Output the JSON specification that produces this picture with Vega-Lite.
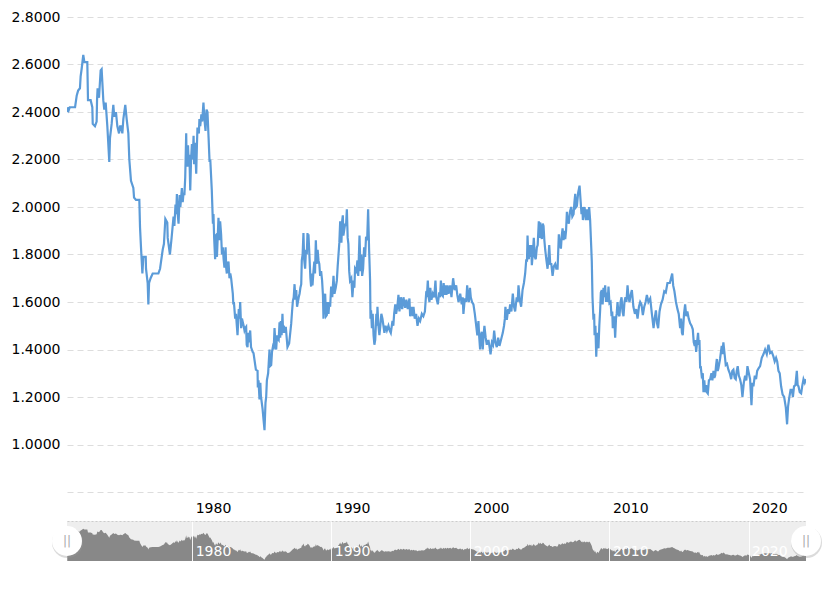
{
  "$schema": "https://vega.github.io/schema/vega-lite/v6.json",
  "padding": {"left": 11, "top": 10, "right": 15, "bottom": 32},
  "background": "#ffffff",
  "config": {"view": {"stroke": null}, "font": "DejaVu Sans"},
  "datasets": {
    "rates": [
      {"year":1971.02,"rate":2.40},{"year":1971.1,"rate":2.42},{"year":1971.14,"rate":2.41},{"year":1971.2,"rate":2.42},{"year":1971.58,"rate":2.42},{"year":1971.7,"rate":2.47},{"year":1971.8,"rate":2.49},{"year":1971.93,"rate":2.50},{"year":1971.98,"rate":2.55},{"year":1972.05,"rate":2.58},{"year":1972.17,"rate":2.64},{"year":1972.25,"rate":2.61},{"year":1972.46,"rate":2.61},{"year":1972.51,"rate":2.45},{"year":1972.7,"rate":2.45},{"year":1972.82,"rate":2.42},{"year":1972.85,"rate":2.35},{"year":1973.01,"rate":2.34},{"year":1973.13,"rate":2.36},{"year":1973.16,"rate":2.45},{"year":1973.2,"rate":2.50},{"year":1973.3,"rate":2.46},{"year":1973.42,"rate":2.575},{"year":1973.49,"rate":2.58},{"year":1973.61,"rate":2.45},{"year":1973.68,"rate":2.41},{"year":1973.78,"rate":2.44},{"year":1973.9,"rate":2.34},{"year":1974.04,"rate":2.19},{"year":1974.09,"rate":2.29},{"year":1974.21,"rate":2.35},{"year":1974.33,"rate":2.43},{"year":1974.4,"rate":2.38},{"year":1974.52,"rate":2.40},{"year":1974.62,"rate":2.34},{"year":1974.74,"rate":2.31},{"year":1974.82,"rate":2.34},{"year":1974.88,"rate":2.34},{"year":1974.98,"rate":2.31},{"year":1975.05,"rate":2.37},{"year":1975.19,"rate":2.43},{"year":1975.29,"rate":2.37},{"year":1975.41,"rate":2.31},{"year":1975.48,"rate":2.20},{"year":1975.6,"rate":2.11},{"year":1975.77,"rate":2.08},{"year":1975.82,"rate":2.04},{"year":1975.96,"rate":2.03},{"year":1976.2,"rate":2.03},{"year":1976.25,"rate":1.915},{"year":1976.32,"rate":1.83},{"year":1976.42,"rate":1.72},{"year":1976.49,"rate":1.79},{"year":1976.66,"rate":1.79},{"year":1976.68,"rate":1.74},{"year":1976.8,"rate":1.68},{"year":1976.85,"rate":1.59},{"year":1976.9,"rate":1.68},{"year":1977.01,"rate":1.70},{"year":1977.16,"rate":1.72},{"year":1977.57,"rate":1.72},{"year":1977.69,"rate":1.74},{"year":1977.88,"rate":1.82},{"year":1977.97,"rate":1.845},{"year":1978.07,"rate":1.95},{"year":1978.21,"rate":1.935},{"year":1978.24,"rate":1.87},{"year":1978.4,"rate":1.80},{"year":1978.52,"rate":1.87},{"year":1978.66,"rate":1.96},
      {"year":1978.72,"rate":1.92},{"year":1978.8,"rate":2.01},{"year":1978.85,"rate":1.97},{"year":1978.9,"rate":2.055},{"year":1978.96,"rate":1.97},{"year":1979.02,"rate":1.93},{"year":1979.1,"rate":2.05},{"year":1979.15,"rate":2.0},{"year":1979.26,"rate":2.08},{"year":1979.32,"rate":2.02},{"year":1979.38,"rate":2.06},{"year":1979.44,"rate":2.05},{"year":1979.5,"rate":2.125},{"year":1979.57,"rate":2.31},{"year":1979.6,"rate":2.19},{"year":1979.66,"rate":2.17},{"year":1979.7,"rate":2.26},{"year":1979.74,"rate":2.2},{"year":1979.8,"rate":2.22},{"year":1979.86,"rate":2.07},{"year":1979.92,"rate":2.2},{"year":1979.98,"rate":2.265},{"year":1980.04,"rate":2.2},{"year":1980.1,"rate":2.30},{"year":1980.14,"rate":2.18},{"year":1980.2,"rate":2.27},{"year":1980.29,"rate":2.14},{"year":1980.34,"rate":2.26},{"year":1980.38,"rate":2.335},{"year":1980.48,"rate":2.31},{"year":1980.52,"rate":2.37},{"year":1980.58,"rate":2.34},{"year":1980.66,"rate":2.39},{"year":1980.72,"rate":2.36},{"year":1980.81,"rate":2.44},{"year":1980.88,"rate":2.37},{"year":1980.96,"rate":2.32},{"year":1981.03,"rate":2.41},{"year":1981.1,"rate":2.40},{"year":1981.18,"rate":2.29},{"year":1981.25,"rate":2.19},{"year":1981.3,"rate":2.2},{"year":1981.41,"rate":2.07},
      {"year":1981.49,"rate":1.93},{"year":1981.53,"rate":1.97},{"year":1981.58,"rate":1.87},{"year":1981.65,"rate":1.78},{"year":1981.7,"rate":1.88},{"year":1981.77,"rate":1.885},{"year":1981.78,"rate":1.79},{"year":1981.89,"rate":1.955},{"year":1981.97,"rate":1.86},{"year":1982.01,"rate":1.94},{"year":1982.08,"rate":1.885},{"year":1982.14,"rate":1.80},{"year":1982.2,"rate":1.83},{"year":1982.26,"rate":1.78},{"year":1982.32,"rate":1.745},{"year":1982.4,"rate":1.83},{"year":1982.45,"rate":1.74},{"year":1982.49,"rate":1.72},{"year":1982.55,"rate":1.76},{"year":1982.61,"rate":1.77},{"year":1982.68,"rate":1.70},{"year":1982.74,"rate":1.72},{"year":1982.8,"rate":1.70},{"year":1982.92,"rate":1.635},{"year":1982.96,"rate":1.59},{"year":1983,"rate":1.6},{"year":1983.09,"rate":1.53},{"year":1983.15,"rate":1.55},{"year":1983.21,"rate":1.50},{"year":1983.26,"rate":1.46},{"year":1983.31,"rate":1.52},{"year":1983.35,"rate":1.57},{"year":1983.4,"rate":1.53},{"year":1983.45,"rate":1.60},{"year":1983.52,"rate":1.49},{"year":1983.58,"rate":1.53},{"year":1983.64,"rate":1.515},{"year":1983.7,"rate":1.50},{"year":1983.76,"rate":1.48},{"year":1983.82,"rate":1.49},{"year":1983.88,"rate":1.495},{"year":1983.92,"rate":1.42},{"year":1983.98,"rate":1.41},{"year":1984.03,"rate":1.47},{"year":1984.07,"rate":1.43},{"year":1984.17,"rate":1.48},{"year":1984.23,"rate":1.41},{"year":1984.29,"rate":1.40},{"year":1984.35,"rate":1.39},{"year":1984.41,"rate":1.385},{"year":1984.58,"rate":1.315},{"year":1984.7,"rate":1.31},{"year":1984.72,"rate":1.24},{"year":1984.77,"rate":1.27},{"year":1984.84,"rate":1.19},{"year":1984.9,"rate":1.26},{"year":1984.94,"rate":1.205},{"year":1985.06,"rate":1.15},{"year":1985.13,"rate":1.105},{"year":1985.2,"rate":1.06},{"year":1985.27,"rate":1.175},{"year":1985.32,"rate":1.20},{"year":1985.37,"rate":1.27},{"year":1985.46,"rate":1.30},{"year":1985.5,"rate":1.34},{"year":1985.56,"rate":1.40},{"year":1985.6,"rate":1.33},{"year":1985.68,"rate":1.335},{"year":1985.74,"rate":1.39},{"year":1985.8,"rate":1.41},{"year":1985.86,"rate":1.40},{"year":1985.92,"rate":1.49},{"year":1985.98,"rate":1.43},{"year":1986.04,"rate":1.40},{"year":1986.1,"rate":1.46},{"year":1986.16,"rate":1.445},{"year":1986.22,"rate":1.44},{"year":1986.28,"rate":1.515},{"year":1986.33,"rate":1.45},{"year":1986.37,"rate":1.52},{"year":1986.43,"rate":1.46},{"year":1986.49,"rate":1.55},{"year":1986.54,"rate":1.47},{"year":1986.59,"rate":1.50},{"year":1986.66,"rate":1.47},{"year":1986.73,"rate":1.495},{"year":1986.85,"rate":1.41},{"year":1986.97,"rate":1.425},{"year":1987.12,"rate":1.51},{"year":1987.18,"rate":1.56},{"year":1987.24,"rate":1.605},{"year":1987.3,"rate":1.62},{"year":1987.36,"rate":1.675},{"year":1987.42,"rate":1.61},{"year":1987.48,"rate":1.65},{"year":1987.54,"rate":1.58},{"year":1987.6,"rate":1.60},{"year":1987.66,"rate":1.62},{"year":1987.72,"rate":1.635},{"year":1987.78,"rate":1.66},{"year":1987.84,"rate":1.675},{"year":1987.88,"rate":1.775},
      {"year":1987.94,"rate":1.80},{"year":1988.0,"rate":1.89},{"year":1988.05,"rate":1.78},{"year":1988.12,"rate":1.74},{"year":1988.18,"rate":1.82},{"year":1988.24,"rate":1.80},{"year":1988.29,"rate":1.89},{"year":1988.33,"rate":1.82},{"year":1988.36,"rate":1.885},{"year":1988.44,"rate":1.78},{"year":1988.5,"rate":1.70},{"year":1988.55,"rate":1.665},{"year":1988.6,"rate":1.72},{"year":1988.65,"rate":1.67},{"year":1988.72,"rate":1.73},{"year":1988.78,"rate":1.77},{"year":1988.83,"rate":1.72},{"year":1988.89,"rate":1.86},{"year":1988.95,"rate":1.76},{"year":1989.02,"rate":1.82},{"year":1989.08,"rate":1.775},{"year":1989.14,"rate":1.76},{"year":1989.2,"rate":1.71},{"year":1989.27,"rate":1.73},{"year":1989.34,"rate":1.69},{"year":1989.4,"rate":1.63},{"year":1989.44,"rate":1.53},{"year":1989.5,"rate":1.62},{"year":1989.56,"rate":1.635},{"year":1989.62,"rate":1.54},{"year":1989.68,"rate":1.545},{"year":1989.74,"rate":1.60},{"year":1989.8,"rate":1.55},{"year":1989.86,"rate":1.60},{"year":1989.92,"rate":1.58},{"year":1989.99,"rate":1.665},{"year":1990.07,"rate":1.62},{"year":1990.16,"rate":1.71},{"year":1990.23,"rate":1.635},{"year":1990.32,"rate":1.66},{"year":1990.4,"rate":1.69},{"year":1990.46,"rate":1.75},{"year":1990.52,"rate":1.80},{"year":1990.58,"rate":1.85},{"year":1990.64,"rate":1.94},{"year":1990.68,"rate":1.87},{"year":1990.73,"rate":1.85},{"year":1990.78,"rate":1.94},{"year":1990.83,"rate":1.965},{"year":1990.87,"rate":1.88},{"year":1990.92,"rate":1.90},{"year":1991,"rate":1.93},{"year":1991.06,"rate":1.92},{"year":1991.12,"rate":1.99},{"year":1991.18,"rate":1.87},{"year":1991.23,"rate":1.845},{"year":1991.29,"rate":1.73},{"year":1991.35,"rate":1.69},{"year":1991.44,"rate":1.70},{"year":1991.52,"rate":1.62},{"year":1991.6,"rate":1.69},{"year":1991.66,"rate":1.66},{"year":1991.71,"rate":1.74},{"year":1991.8,"rate":1.73},{"year":1991.88,"rate":1.775},{"year":1991.94,"rate":1.71},{"year":1992.03,"rate":1.88},{"year":1992.1,"rate":1.73},{"year":1992.16,"rate":1.80},{"year":1992.22,"rate":1.71},{"year":1992.29,"rate":1.74},{"year":1992.36,"rate":1.83},{"year":1992.43,"rate":1.79},{"year":1992.5,"rate":1.875},{"year":1992.58,"rate":1.86},{"year":1992.65,"rate":1.99},{"year":1992.72,"rate":1.82},{"year":1992.79,"rate":1.69},{"year":1992.82,"rate":1.53},{"year":1992.86,"rate":1.565},{"year":1992.92,"rate":1.49},{"year":1992.98,"rate":1.55},{"year":1993.04,"rate":1.46},{"year":1993.1,"rate":1.42},{"year":1993.16,"rate":1.44},{"year":1993.24,"rate":1.55},{"year":1993.28,"rate":1.50},{"year":1993.32,"rate":1.58},{"year":1993.39,"rate":1.50},{"year":1993.46,"rate":1.46},{"year":1993.53,"rate":1.50},{"year":1993.6,"rate":1.55},{"year":1993.68,"rate":1.53},{"year":1993.75,"rate":1.50},{"year":1993.82,"rate":1.47},{"year":1993.9,"rate":1.50},{"year":1994,"rate":1.48},{"year":1994.11,"rate":1.50},{"year":1994.2,"rate":1.48},{"year":1994.28,"rate":1.47},{"year":1994.4,"rate":1.52},{"year":1994.46,"rate":1.50},{"year":1994.52,"rate":1.55},{"year":1994.6,"rate":1.59},{"year":1994.66,"rate":1.55},{"year":1994.75,"rate":1.58},{"year":1994.83,"rate":1.63},{"year":1994.9,"rate":1.56},{"year":1995,"rate":1.62},{"year":1995.1,"rate":1.57},{"year":1995.19,"rate":1.62},{"year":1995.31,"rate":1.575},{"year":1995.4,"rate":1.61},{"year":1995.5,"rate":1.57},{"year":1995.62,"rate":1.615},{"year":1995.67,"rate":1.54},{"year":1995.78,"rate":1.58},{"year":1995.85,"rate":1.54},{"year":1995.91,"rate":1.58},{"year":1996,"rate":1.53},{"year":1996.1,"rate":1.55},{"year":1996.2,"rate":1.50},{"year":1996.3,"rate":1.53},{"year":1996.39,"rate":1.52},
      {"year":1996.51,"rate":1.55},{"year":1996.62,"rate":1.54},{"year":1996.73,"rate":1.56},{"year":1996.82,"rate":1.635},{"year":1996.88,"rate":1.63},{"year":1996.94,"rate":1.69},{"year":1997,"rate":1.62},{"year":1997.06,"rate":1.60},{"year":1997.12,"rate":1.66},{"year":1997.2,"rate":1.61},{"year":1997.3,"rate":1.635},{"year":1997.4,"rate":1.62},{"year":1997.49,"rate":1.69},{"year":1997.55,"rate":1.62},{"year":1997.66,"rate":1.59},{"year":1997.76,"rate":1.64},{"year":1997.82,"rate":1.62},{"year":1997.88,"rate":1.69},{"year":1997.95,"rate":1.63},{"year":1998.02,"rate":1.625},{"year":1998.08,"rate":1.68},{"year":1998.14,"rate":1.63},{"year":1998.21,"rate":1.67},{"year":1998.28,"rate":1.63},{"year":1998.36,"rate":1.67},{"year":1998.43,"rate":1.635},{"year":1998.55,"rate":1.67},{"year":1998.64,"rate":1.62},{"year":1998.76,"rate":1.70},{"year":1998.87,"rate":1.65},{"year":1998.98,"rate":1.67},{"year":1999.06,"rate":1.63},{"year":1999.15,"rate":1.60},{"year":1999.27,"rate":1.635},{"year":1999.38,"rate":1.59},{"year":1999.45,"rate":1.62},{"year":1999.5,"rate":1.55},{"year":1999.6,"rate":1.615},{"year":1999.7,"rate":1.60},{"year":1999.77,"rate":1.67},{"year":1999.83,"rate":1.62},{"year":1999.89,"rate":1.60},{"year":1999.97,"rate":1.66},{"year":2000.03,"rate":1.62},{"year":2000.12,"rate":1.60},{"year":2000.22,"rate":1.59},{"year":2000.32,"rate":1.55},{"year":2000.42,"rate":1.50},{"year":2000.5,"rate":1.46},{"year":2000.58,"rate":1.52},{"year":2000.64,"rate":1.45},{"year":2000.7,"rate":1.40},{"year":2000.76,"rate":1.46},{"year":2000.82,"rate":1.475},{"year":2000.89,"rate":1.40},{"year":2000.95,"rate":1.46},{"year":2001.01,"rate":1.50},{"year":2001.1,"rate":1.45},{"year":2001.18,"rate":1.42},{"year":2001.3,"rate":1.44},{"year":2001.38,"rate":1.41},{"year":2001.45,"rate":1.38},{"year":2001.55,"rate":1.43},{"year":2001.63,"rate":1.42},{"year":2001.71,"rate":1.48},{"year":2001.8,"rate":1.43},{"year":2001.9,"rate":1.41},{"year":2002,"rate":1.45},{"year":2002.09,"rate":1.415},{"year":2002.2,"rate":1.44},{"year":2002.33,"rate":1.47},{"year":2002.42,"rate":1.50},{"year":2002.48,"rate":1.53},{"year":2002.52,"rate":1.58},{"year":2002.62,"rate":1.525},{"year":2002.72,"rate":1.57},{"year":2002.78,"rate":1.55},{"year":2002.86,"rate":1.59},{"year":2002.95,"rate":1.56},{"year":2003.05,"rate":1.635},{"year":2003.14,"rate":1.58},{"year":2003.22,"rate":1.56},{"year":2003.33,"rate":1.62},{"year":2003.4,"rate":1.60},{"year":2003.46,"rate":1.67},{"year":2003.55,"rate":1.61},{"year":2003.65,"rate":1.58},{"year":2003.75,"rate":1.65},{"year":2003.85,"rate":1.68},{"year":2003.94,"rate":1.72},{"year":2004.02,"rate":1.78},{"year":2004.07,"rate":1.77},{"year":2004.11,"rate":1.88},{"year":2004.16,"rate":1.80},{"year":2004.2,"rate":1.78},{"year":2004.28,"rate":1.84},{"year":2004.33,"rate":1.79},{"year":2004.37,"rate":1.84},{"year":2004.42,"rate":1.755},{"year":2004.5,"rate":1.81},{"year":2004.56,"rate":1.87},{"year":2004.63,"rate":1.79},{"year":2004.7,"rate":1.78},{"year":2004.78,"rate":1.83},{"year":2004.84,"rate":1.84},{"year":2004.92,"rate":1.94},{"year":2004.97,"rate":1.87},
      {"year":2005.02,"rate":1.935},{"year":2005.08,"rate":1.88},{"year":2005.14,"rate":1.865},{"year":2005.2,"rate":1.93},{"year":2005.26,"rate":1.92},{"year":2005.32,"rate":1.86},{"year":2005.38,"rate":1.82},{"year":2005.46,"rate":1.78},{"year":2005.55,"rate":1.74},{"year":2005.62,"rate":1.79},{"year":2005.67,"rate":1.84},{"year":2005.74,"rate":1.76},{"year":2005.82,"rate":1.76},{"year":2005.91,"rate":1.71},{"year":2006,"rate":1.75},{"year":2006.1,"rate":1.76},{"year":2006.18,"rate":1.74},{"year":2006.27,"rate":1.74},{"year":2006.32,"rate":1.82},{"year":2006.36,"rate":1.885},{"year":2006.44,"rate":1.84},{"year":2006.51,"rate":1.825},{"year":2006.57,"rate":1.88},{"year":2006.63,"rate":1.91},{"year":2006.7,"rate":1.86},{"year":2006.76,"rate":1.90},{"year":2006.82,"rate":1.865},{"year":2006.88,"rate":1.90},{"year":2006.94,"rate":1.98},{"year":2007.01,"rate":1.94},{"year":2007.08,"rate":1.93},{"year":2007.16,"rate":1.98},{"year":2007.25,"rate":2.00},{"year":2007.33,"rate":1.96},{"year":2007.42,"rate":1.97},{"year":2007.48,"rate":2.02},{"year":2007.54,"rate":2.055},{"year":2007.6,"rate":2.0},{"year":2007.66,"rate":2.005},{"year":2007.75,"rate":2.06},{"year":2007.85,"rate":2.09},{"year":2007.92,"rate":2.03},{"year":2007.99,"rate":1.97},{"year":2008.05,"rate":2.0},{"year":2008.09,"rate":1.945},{"year":2008.15,"rate":1.98},{"year":2008.21,"rate":2.0},{"year":2008.3,"rate":1.945},{"year":2008.38,"rate":1.99},{"year":2008.47,"rate":1.945},{"year":2008.54,"rate":2.0},{"year":2008.61,"rate":1.945},{"year":2008.69,"rate":1.83},{"year":2008.73,"rate":1.77},{"year":2008.78,"rate":1.62},{"year":2008.85,"rate":1.525},{"year":2008.9,"rate":1.55},{"year":2008.93,"rate":1.46},{"year":2008.99,"rate":1.50},{"year":2009.05,"rate":1.37},{"year":2009.1,"rate":1.45},{"year":2009.14,"rate":1.47},{"year":2009.21,"rate":1.405},{"year":2009.27,"rate":1.50},{"year":2009.33,"rate":1.565},{"year":2009.38,"rate":1.64},{"year":2009.45,"rate":1.65},{"year":2009.51,"rate":1.59},{"year":2009.57,"rate":1.66},{"year":2009.63,"rate":1.62},{"year":2009.69,"rate":1.67},{"year":2009.75,"rate":1.60},{"year":2009.81,"rate":1.64},{"year":2009.87,"rate":1.60},{"year":2009.93,"rate":1.665},{"year":2010,"rate":1.595},{"year":2010.08,"rate":1.60},{"year":2010.15,"rate":1.54},{"year":2010.2,"rate":1.56},{"year":2010.24,"rate":1.49},{"year":2010.3,"rate":1.52},{"year":2010.34,"rate":1.54},{"year":2010.41,"rate":1.45},{"year":2010.47,"rate":1.53},{"year":2010.52,"rate":1.55},{"year":2010.58,"rate":1.60},{"year":2010.65,"rate":1.55},{"year":2010.72,"rate":1.54},{"year":2010.8,"rate":1.60},{"year":2010.87,"rate":1.62},{"year":2010.94,"rate":1.56},{"year":2011.01,"rate":1.54},{"year":2011.08,"rate":1.60},{"year":2011.15,"rate":1.62},{"year":2011.22,"rate":1.60},{"year":2011.3,"rate":1.67},{"year":2011.37,"rate":1.62},{"year":2011.44,"rate":1.60},{"year":2011.52,"rate":1.63},{"year":2011.61,"rate":1.65},{"year":2011.72,"rate":1.58},{"year":2011.83,"rate":1.55},{"year":2011.92,"rate":1.57},{"year":2012.02,"rate":1.53},{"year":2012.12,"rate":1.58},{"year":2012.21,"rate":1.60},{"year":2012.3,"rate":1.59},{"year":2012.4,"rate":1.545},{"year":2012.5,"rate":1.58},{"year":2012.6,"rate":1.60},{"year":2012.69,"rate":1.63},{"year":2012.8,"rate":1.60},{"year":2012.93,"rate":1.615},{"year":2013.05,"rate":1.55},{"year":2013.17,"rate":1.49},{"year":2013.25,"rate":1.53},{"year":2013.34,"rate":1.565},{"year":2013.42,"rate":1.51},{"year":2013.5,"rate":1.49},{"year":2013.6,"rate":1.56},{"year":2013.7,"rate":1.59},{"year":2013.82,"rate":1.61},{"year":2013.94,"rate":1.645},{"year":2014.05,"rate":1.64},{"year":2014.17,"rate":1.68},{"year":2014.34,"rate":1.68},{"year":2014.51,"rate":1.72},
      {"year":2014.58,"rate":1.67},{"year":2014.67,"rate":1.645},{"year":2014.78,"rate":1.60},{"year":2014.89,"rate":1.57},{"year":2014.98,"rate":1.55},{"year":2015.08,"rate":1.49},{"year":2015.15,"rate":1.53},{"year":2015.21,"rate":1.47},{"year":2015.27,"rate":1.46},{"year":2015.36,"rate":1.55},{"year":2015.44,"rate":1.59},{"year":2015.52,"rate":1.54},{"year":2015.6,"rate":1.56},{"year":2015.7,"rate":1.53},{"year":2015.8,"rate":1.51},{"year":2015.9,"rate":1.50},{"year":2015.99,"rate":1.485},{"year":2016.06,"rate":1.43},{"year":2016.13,"rate":1.415},{"year":2016.18,"rate":1.44},{"year":2016.23,"rate":1.39},{"year":2016.3,"rate":1.43},{"year":2016.37,"rate":1.47},{"year":2016.42,"rate":1.42},{"year":2016.47,"rate":1.44},{"year":2016.52,"rate":1.32},{"year":2016.56,"rate":1.33},{"year":2016.63,"rate":1.29},{"year":2016.71,"rate":1.30},{"year":2016.76,"rate":1.22},{"year":2016.82,"rate":1.27},{"year":2016.88,"rate":1.22},{"year":2016.95,"rate":1.25},{"year":2017.01,"rate":1.22},{"year":2017.07,"rate":1.215},{"year":2017.15,"rate":1.27},{"year":2017.24,"rate":1.275},{"year":2017.33,"rate":1.30},{"year":2017.4,"rate":1.27},{"year":2017.48,"rate":1.31},{"year":2017.54,"rate":1.28},{"year":2017.6,"rate":1.29},{"year":2017.66,"rate":1.33},{"year":2017.72,"rate":1.36},{"year":2017.78,"rate":1.31},{"year":2017.83,"rate":1.32},{"year":2017.95,"rate":1.36},{"year":2018.07,"rate":1.415},{"year":2018.12,"rate":1.38},{"year":2018.19,"rate":1.43},{"year":2018.28,"rate":1.38},{"year":2018.36,"rate":1.335},{"year":2018.45,"rate":1.34},{"year":2018.55,"rate":1.315},{"year":2018.65,"rate":1.30},{"year":2018.75,"rate":1.275},{"year":2018.83,"rate":1.31},{"year":2018.91,"rate":1.315},{"year":2019,"rate":1.28},{"year":2019.08,"rate":1.275},{"year":2019.15,"rate":1.31},{"year":2019.22,"rate":1.33},{"year":2019.3,"rate":1.29},{"year":2019.39,"rate":1.275},{"year":2019.48,"rate":1.25},{"year":2019.56,"rate":1.20},{"year":2019.66,"rate":1.26},{"year":2019.75,"rate":1.29},{"year":2019.84,"rate":1.27},{"year":2019.92,"rate":1.33},{"year":2020.02,"rate":1.30},{"year":2020.11,"rate":1.275},{"year":2020.16,"rate":1.22},{"year":2020.21,"rate":1.165},{"year":2020.28,"rate":1.26},{"year":2020.35,"rate":1.245},{"year":2020.45,"rate":1.29},{"year":2020.54,"rate":1.275},{"year":2020.62,"rate":1.31},{"year":2020.71,"rate":1.32},{"year":2020.83,"rate":1.33},{"year":2020.95,"rate":1.365},{"year":2021.07,"rate":1.38},{"year":2021.19,"rate":1.40},{"year":2021.31,"rate":1.38},{"year":2021.43,"rate":1.42},{"year":2021.55,"rate":1.385},{"year":2021.67,"rate":1.39},{"year":2021.79,"rate":1.37},{"year":2021.88,"rate":1.35},{"year":2021.98,"rate":1.365},{"year":2022.06,"rate":1.35},{"year":2022.15,"rate":1.31},{"year":2022.24,"rate":1.30},{"year":2022.34,"rate":1.245},{"year":2022.45,"rate":1.21},{"year":2022.56,"rate":1.20},{"year":2022.68,"rate":1.155},{"year":2022.77,"rate":1.085},{"year":2022.84,"rate":1.16},{"year":2022.92,"rate":1.195},{"year":2023.02,"rate":1.23},{"year":2023.11,"rate":1.23},{"year":2023.19,"rate":1.20},{"year":2023.27,"rate":1.245},{"year":2023.37,"rate":1.25},{"year":2023.47,"rate":1.31},{"year":2023.53,"rate":1.25},{"year":2023.59,"rate":1.245},{"year":2023.68,"rate":1.22},{"year":2023.78,"rate":1.215},{"year":2023.87,"rate":1.25},{"year":2023.95,"rate":1.275},{"year":2024.04,"rate":1.26},{"year":2024.13,"rate":1.275}
    ],
    "handles": [{"year": 1971.0, "mid": 2.02, "grip": "||"}, {"year": 2024.13, "mid": 2.02, "grip": "||"}]
  },
  "vconcat": [
    {
      "width": 739,
      "height": 475,
      "data": {"name": "rates"},
      "mark": {"type": "line", "color": "#5b9bd8", "strokeWidth": 2.2, "clip": true},
      "encoding": {
        "x": {
          "field": "year",
          "type": "quantitative",
          "scale": {"domain": [1971, 2024.13], "nice": false, "zero": false},
          "axis": {
            "title": null,
            "values": [1980, 1990, 2000, 2010, 2020],
            "format": "d",
            "domain": false,
            "ticks": false,
            "grid": false,
            "labelFontSize": 14,
            "labelColor": "#000000",
            "labelAlign": "left",
            "labelOffset": 3,
            "labelPadding": 9
          }
        },
        "y": {
          "field": "rate",
          "type": "quantitative",
          "scale": {"domain": [0.8, 2.8], "nice": false, "zero": false},
          "axis": {
            "title": null,
            "values": [0.8, 1, 1.2, 1.4, 1.6, 1.8, 2, 2.2, 2.4, 2.6, 2.8],
            "labelExpr": "datum.value < 0.9 ? '' : format(datum.value, '.4f')",
            "domain": false,
            "ticks": false,
            "grid": true,
            "gridColor": "#dddddd",
            "gridDash": [6, 4],
            "labelFontSize": 14,
            "labelColor": "#000000",
            "labelPadding": 7
          }
        }
      }
    },
    {
      "width": 739,
      "height": 40,
      "view": {"fill": "#eeeeee", "stroke": null},
      "layer": [
        {
          "data": {"name": "rates"},
          "mark": {"type": "area", "color": "#888888", "opacity": 1, "clip": true},
          "encoding": {
            "x": {
              "field": "year",
              "type": "quantitative",
              "scale": {"domain": [1971, 2024.13], "nice": false, "zero": false},
              "axis": {
                "title": null,
                "values": [1980, 1990, 2000, 2010, 2020],
                "format": "d",
                "domain": false,
                "ticks": false,
                "grid": true,
                "gridColor": "#ffffff",
                "gridOpacity": 0.9,
                "labelFontSize": 14,
                "labelColor": "#ffffff",
                "labelAlign": "left",
                "labelOffset": 3,
                "labelPadding": -17,
                "zindex": 1
              }
            },
            "y": {
              "field": "rate",
              "type": "quantitative",
              "scale": {"domain": [1, 3.04], "nice": false, "zero": false},
              "axis": {
                "title": null,
                "values": [3.04],
                "labels": false,
                "domain": false,
                "ticks": false,
                "grid": true,
                "gridColor": "#cccccc",
                "gridDash": [2, 2]
              }
            }
          }
        },
        {
          "data": {"name": "handles"},
          "mark": {"type": "point", "filled": true, "size": 961, "color": "#999999", "opacity": 0.35, "yOffset": 1.5, "xOffset": 0.5, "clip": false},
          "encoding": {
            "x": {"field": "year", "type": "quantitative"},
            "y": {"field": "mid", "type": "quantitative"}
          }
        },
        {
          "data": {"name": "handles"},
          "mark": {"type": "point", "filled": true, "size": 900, "color": "#ffffff", "opacity": 1, "clip": false},
          "encoding": {
            "x": {"field": "year", "type": "quantitative"},
            "y": {"field": "mid", "type": "quantitative"}
          }
        },
        {
          "data": {"name": "handles"},
          "mark": {"type": "text", "fontSize": 12, "color": "#aaaaaa", "font": "DejaVu Sans"},
          "encoding": {
            "x": {"field": "year", "type": "quantitative"},
            "y": {"field": "mid", "type": "quantitative"},
            "text": {"field": "grip"}
          }
        }
      ]
    }
  ],
  "spacing": 6
}
